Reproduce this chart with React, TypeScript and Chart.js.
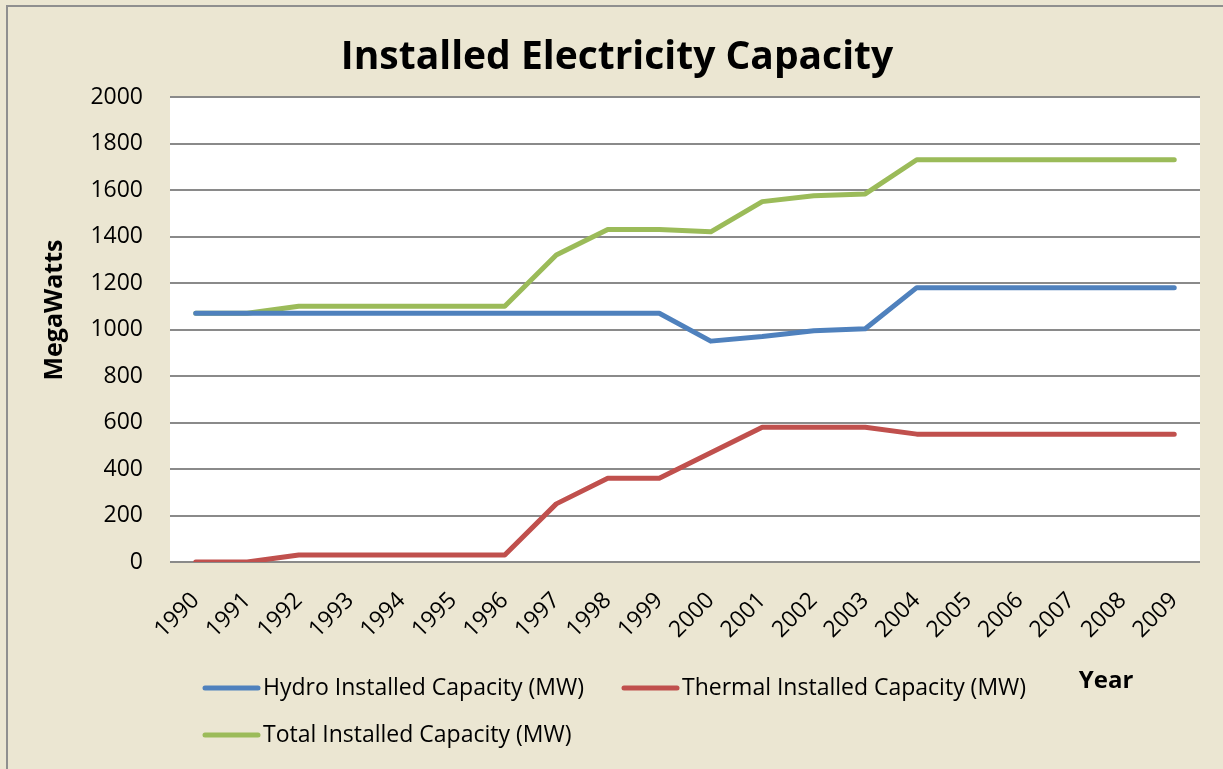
import React, { useEffect, useRef } from "react";
import { Chart, registerables } from "chart.js";

Chart.register(...registerables);

const years = ["1990","1991","1992","1993","1994","1995","1996","1997","1998","1999","2000","2001","2002","2003","2004","2005","2006","2007","2008","2009"];
const hydro = [1070,1070,1070,1070,1070,1070,1070,1070,1070,1070,950,970,995,1003,1180,1180,1180,1180,1180,1180];
const thermal = [0,0,30,30,30,30,30,250,360,360,470,580,580,580,550,550,550,550,550,550];
const total = [1070,1070,1100,1100,1100,1100,1100,1320,1430,1430,1420,1550,1575,1583,1730,1730,1730,1730,1730,1730];
const seriesNames = ["Hydro Installed Capacity (MW)", "Thermal Installed Capacity (MW)", "Total Installed Capacity (MW)"];
const seriesColors = ["#4F81BD", "#C0504D", "#9BBB59"];
const titleText = "Installed Electricity Capacity";
const yTitle = "MegaWatts";
const xTitle = "Year";

const W = 1223;
const H = 769;
const BG = "#EBE6D2";
const FONT = "'Open Sans', 'DejaVu Sans', sans-serif";

const decorPlugin = {
  id: "decor",
  beforeDraw(chart: any) {
    const ctx = chart.ctx;
    const a = chart.chartArea;
    ctx.save();
    ctx.fillStyle = BG;
    ctx.fillRect(0, 0, W, H);
    ctx.strokeStyle = "#8f8f8f";
    ctx.lineWidth = 2;
    ctx.strokeRect(7, 6, W + 20, H + 20);
    ctx.fillStyle = "#ffffff";
    ctx.fillRect(a.left, a.top, a.right - a.left, a.bottom - a.top);
    ctx.restore();
  },
  afterDraw(chart: any) {
    const ctx = chart.ctx;
    ctx.save();
    ctx.fillStyle = "#000000";
    // title
    ctx.font = `bold 39px ${FONT}`;
    ctx.textAlign = "center";
    ctx.textBaseline = "middle";
    ctx.fillText(titleText, 617, 58);
    // y title
    ctx.save();
    ctx.translate(55, 310);
    ctx.rotate(-Math.PI / 2);
    ctx.font = `bold 25px ${FONT}`;
    ctx.fillText(yTitle, 0, 0);
    ctx.restore();
    // x title
    ctx.font = `bold 24px ${FONT}`;
    ctx.textAlign = "center";
    ctx.fillText(xTitle, 1106, 681);
    // legend
    const items = [
      { x: 205, y: 688 },
      { x: 624, y: 688 },
      { x: 205, y: 735 },
    ];
    ctx.font = `23px ${FONT}`;
    ctx.textAlign = "left";
    items.forEach((it, i) => {
      ctx.strokeStyle = seriesColors[i];
      ctx.lineWidth = 5;
      ctx.lineCap = "round";
      ctx.beginPath();
      ctx.moveTo(it.x, it.y);
      ctx.lineTo(it.x + 53, it.y);
      ctx.stroke();
      ctx.fillStyle = "#000000";
      ctx.fillText(seriesNames[i], it.x + 58, it.y);
    });
    ctx.restore();
  },
};

export default function App() {
  const ref = useRef<HTMLCanvasElement | null>(null);
  useEffect(() => {
    if (!ref.current) return;
    const mk = (i: number, data: number[]) => ({
      label: seriesNames[i],
      data,
      borderColor: seriesColors[i],
      backgroundColor: seriesColors[i],
      borderWidth: 5,
      pointRadius: 0,
      tension: 0,
      borderCapStyle: "round",
      borderJoinStyle: "round",
      fill: false,
    });
    const chart = new Chart(ref.current, {
      type: "line",
      data: {
        labels: years,
        datasets: [mk(0, hydro), mk(1, thermal), mk(2, total)] as any,
      },
      options: {
        responsive: false,
        animation: false,
        layout: { padding: { left: 0, right: 23, top: 97, bottom: 0 } },
        plugins: {
          legend: { display: false },
          title: { display: false },
          tooltip: { enabled: false },
        },
        scales: {
          x: {
            offset: true,
            grid: { display: false, drawTicks: false },
            border: { display: false },
            ticks: {
              minRotation: 45,
              maxRotation: 45,
              autoSkip: false,
              padding: 25,
              color: "#000000",
              font: { family: FONT, size: 23 },
            },
            afterFit: (s: any) => { s.height = H - 562; },
          },
          y: {
            min: 0,
            max: 2000,
            grid: { color: "#8a8a8a", lineWidth: 2, drawTicks: false },
            border: { display: false },
            ticks: {
              stepSize: 200,
              padding: 27,
              color: "#000000",
              font: { family: FONT, size: 23 },
              callback: (v: any) => String(v),
            },
            afterFit: (s: any) => { s.width = 170; },
          },
        },
      } as any,
      plugins: [decorPlugin],
    });
    return () => chart.destroy();
  }, []);
  return (
    <div style={{ position: "fixed", left: 0, top: 0, width: W, height: H }}>
      <canvas ref={ref} width={W} height={H} style={{ display: "block", width: W, height: H }} />
    </div>
  );
}
